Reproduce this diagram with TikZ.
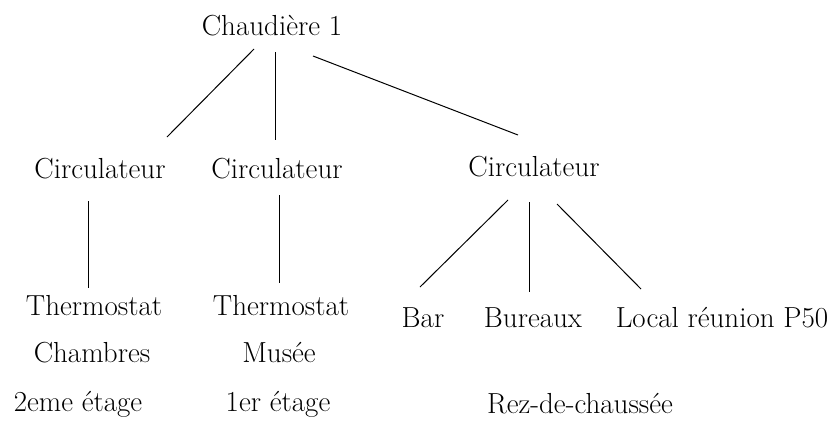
\documentclass[tikz,border=0pt]{standalone}
\usepackage{fontspec}
\begin{document}
\begin{tikzpicture}[x=1pt,y=-1pt,
  lbl/.style={anchor=base,inner sep=0pt,font=\fontsize{29}{35}\selectfont},
  link/.style={line width=1pt,black}]
\useasboundingbox[fill=white] (0,0) rectangle (834,421);
\node[lbl] (ch) at (272,35) {Chaudière 1};
\node[lbl] (c1) at (100,178) {Circulateur};
\node[lbl] (c2) at (277,178) {Circulateur};
\node[lbl] (c3) at (534,176) {Circulateur};
\node[lbl] (t1) at (94,315) {Thermostat};
\node[lbl] (t2) at (281,315) {Thermostat};
\node[lbl] (cb) at (92,362) {Chambres};
\node[lbl] (mu) at (279,362) {Musée};
\node[lbl] (e2) at (78,411) {2eme étage};
\node[lbl] (e1) at (278,411) {1er étage};
\node[lbl] (ba) at (423,327) {Bar};
\node[lbl] (bu) at (533,327) {Bureaux};
\node[lbl] (lo) at (722,327) {Local réunion P50};
\node[lbl] (rz) at (580,413) {Rez-de-chaussée};
\draw[link] ([shift={(-18,14)}]ch.base) -- ([shift={(67,-41)}]c1.base);
\draw[link] ([shift={(3,17)}]ch.base) -- ([shift={(-2,-38)}]c2.base);
\draw[link] ([shift={(41,21)}]ch.base) -- ([shift={(-16,-41)}]c3.base);
\draw[link] ([shift={(-12,23)}]c1.base) -- ([shift={(-6,-27)}]t1.base);
\draw[link] ([shift={(2,17)}]c2.base) -- ([shift={(-2,-32)}]t2.base);
\draw[link] ([shift={(-26,24)}]c3.base) -- ([shift={(-3,-40)}]ba.base);
\draw[link] ([shift={(-5,26)}]c3.base) -- ([shift={(-4,-35)}]bu.base);
\draw[link] ([shift={(23,28)}]c3.base) -- ([shift={(-81,-38)}]lo.base);
\end{tikzpicture}
\end{document}
